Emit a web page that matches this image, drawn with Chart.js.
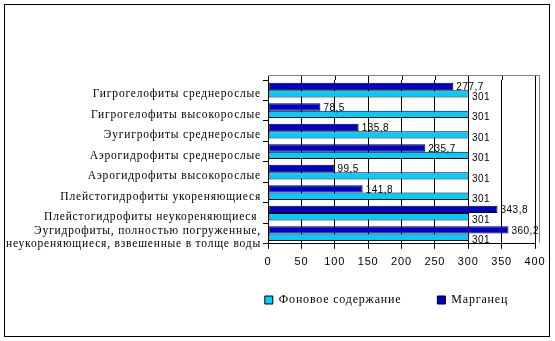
<!DOCTYPE html>
<html lang="ru">

<head>
  <meta charset="UTF-8">
  <title>Марганец</title>
  <style>
    body {
      margin: 0;
      background: #fff;
    }

    .wrap {
      position: relative;
      width: 555px;
      height: 341px;
    }

    .frame {
      position: absolute;
      left: 4px;
      top: 4px;
      width: 544px;
      height: 331px;
      border: 1px solid #000;
      pointer-events: none;
    }
  </style>
  <script src="https://cdn.jsdelivr.net/npm/chart.js"></script>
</head>

<body>
  <div class="wrap">
    <canvas id="chart" width="555" height="341"></canvas>
    <div class="frame"></div>
  </div>

  <script>
    // ecological groups, top to bottom
    const groups = [
      'Гигрогелофиты среднерослые',
      'Гигрогелофиты высокорослые',
      'Эугигрофиты среднерослые',
      'Аэрогидрофиты среднерослые',
      'Аэрогидрофиты высокорослые',
      'Плейстогидрофиты укореняющиеся',
      'Плейстогидрофиты неукореняющиеся ',
      ['Эугидрофиты, полностью погруженные,', 'неукореняющиеся, взвешенные в толще воды']
    ];
    const manganese = [277.7, 78.5, 135.8, 235.7, 99.5, 141.8, 343.8, 360.2];
    const background = [301, 301, 301, 301, 301, 301, 301, 301];
    const xTicks = [0, 50, 100, 150, 200, 250, 300, 350, 400];

    const serif = '"Liberation Serif", "Times New Roman", serif';
    const sans = '"Liberation Sans", Arial, sans-serif';

    // value next to the end of every bar, decimal comma
    const valueLabels = {
      id: 'valueLabels',
      afterDatasetsDraw(chart) {
        const ctx = chart.ctx;
        ctx.save();
        ctx.letterSpacing = '0.5px';
        ctx.font = '10px ' + sans;
        ctx.fillStyle = '#000';
        ctx.textBaseline = 'middle';
        ctx.textAlign = 'left';
        chart.data.datasets.forEach((ds, i) => {
          const dy = i === 1 ? 3 : 1;
          chart.getDatasetMeta(i).data.forEach((bar, j) => {
            const txt = String(ds.data[j]).replace('.', ',');
            ctx.fillText(txt, bar.x + 3, bar.y + dy);
          });
        });
        ctx.restore();
      }
    };

    // grey back-wall edges and the gridline ends above the plot
    const wallEdges = {
      id: 'wallEdges',
      beforeDatasetsDraw(chart) {
        const { ctx, chartArea: a } = chart;
        const x = chart.scales.x;
        ctx.save();
        ctx.lineWidth = 1;
        ctx.strokeStyle = '#000';
        ctx.beginPath();
        x.ticks.forEach(t => {
          const px = Math.round(x.getPixelForValue(t.value)) + 0.5;
          ctx.moveTo(px, a.top - 4);
          ctx.lineTo(px, a.top);
        });
        ctx.stroke();
        ctx.strokeStyle = '#808080';
        ctx.beginPath();
        ctx.moveTo(a.left + 0.5, a.top - 4.5);
        ctx.lineTo(a.right + 4.5, a.top - 4.5);
        ctx.lineTo(a.right + 4.5, a.bottom - 1);
        ctx.stroke();
        ctx.restore();
      }
    };

    // wide glyph spacing like the old renderer; legend moved right and up
    const tweaks = {
      id: 'tweaks',
      beforeUpdate(chart) { chart.ctx.letterSpacing = '0.8px'; },
      beforeDraw(chart) { chart.ctx.letterSpacing = '0.8px'; },
      afterLayout(chart) {
        const lg = chart.legend;
        lg.left += 119;
        lg.right += 119;
        lg.top -= 18;
        lg.bottom -= 18;
      }
    };

    new Chart(document.getElementById('chart'), {
      type: 'bar',
      data: {
        labels: groups,
        datasets: [{
          label: 'Марганец',
          data: manganese,
          backgroundColor: '#0000c8',
          borderColor: '#000',
          borderWidth: 1,
          borderSkipped: false
        }, {
          label: 'Фоновое содержание',
          data: background,
          backgroundColor: '#00ccff',
          borderColor: '#000',
          borderWidth: 1,
          borderSkipped: false
        }]
      },
      options: {
        indexAxis: 'y',
        responsive: false,
        animation: false,
        layout: {
          padding: { left: 0, right: 20, top: 80, bottom: 7 }
        },
        datasets: {
          bar: { categoryPercentage: 0.72, barPercentage: 1 }
        },
        scales: {
          x: {
            min: 0,
            max: 400,
            afterBuildTicks(axis) {
              axis.ticks = xTicks.map(v => ({ value: v }));
            },
            grid: { color: '#000', tickLength: 5, drawTicks: true },
            border: { color: '#000' },
            ticks: {
              color: '#000',
              padding: 7,
              font: { family: sans, size: 11 }
            }
          },
          y: {
            afterFit(axis) {
              axis.width = 268;
              axis.paddingTop = 0;
              axis.paddingBottom = 0;
            },
            grid: { display: true, drawOnChartArea: false, color: '#000', drawTicks: true, tickLength: 5 },
            border: { color: '#000' },
            ticks: {
              color: '#000',
              autoSkip: false,
              padding: 2,
              labelOffset: 4,
              font: { family: serif, size: 11.5, lineHeight: 1.1 }
            }
          }
        },
        plugins: {
          legend: {
            position: 'bottom',
            labels: {
              color: '#000',
              boxWidth: 8,
              boxHeight: 8,
              padding: 36,
              font: { family: serif, size: 12 },
              sort: (a, b) => b.datasetIndex - a.datasetIndex
            }
          },
          tooltip: { enabled: false }
        }
      },
      plugins: [tweaks, wallEdges, valueLabels]
    });
  </script>
</body>

</html>
